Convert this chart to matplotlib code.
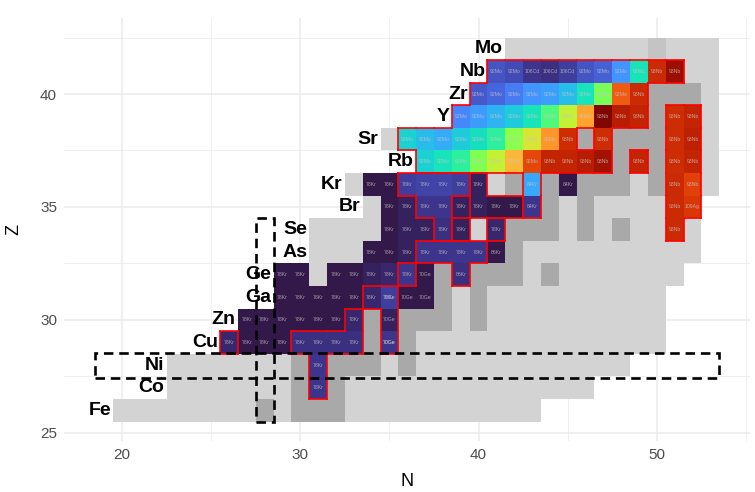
import matplotlib.pyplot as plt
from matplotlib.patches import Rectangle
from matplotlib.collections import LineCollection
from matplotlib import colormaps

plt.rcParams['font.family'] = ['Liberation Sans', 'DejaVu Sans']

elements = ['Fe', 'Co', 'Ni', 'Cu', 'Zn', 'Ga', 'Ge', 'As', 'Se',
            'Br', 'Kr', 'Rb', 'Sr', 'Y', 'Zr', 'Nb', 'Mo']
element_z = list(range(26, 43))

# grey background nuclei, stored as runs along N: (Z, first N, last N)
light_runs = [
    (26, 20, 27), (26, 29, 29), (26, 33, 43),
    (27, 23, 29), (27, 33, 46),
    (28, 23, 29), (28, 35, 35), (28, 37, 48),
    (29, 37, 50),
    (30, 39, 39), (30, 41, 50),
    (31, 39, 39), (31, 41, 50),
    (32, 31, 31), (32, 43, 43), (32, 45, 51),
    (33, 31, 33), (33, 43, 52),
    (34, 31, 34), (34, 40, 40), (34, 45, 45), (34, 47, 47), (34, 49, 50), (34, 52, 52),
    (35, 34, 34), (35, 45, 45), (35, 47, 50),
    (36, 33, 33), (36, 41, 41), (36, 49, 49), (36, 53, 53),
    (37, 53, 53),
    (38, 35, 35), (38, 53, 53),
    (39, 53, 53),
    (40, 53, 53),
    (41, 52, 53),
    (42, 42, 49), (42, 51, 53),
]
dark_runs = [
    (26, 28, 28), (26, 30, 32),
    (27, 30, 30), (27, 32, 32),
    (28, 30, 30), (28, 32, 34), (28, 36, 36),
    (29, 34, 34), (29, 36, 36),
    (30, 34, 34), (30, 36, 38), (30, 40, 40),
    (31, 38, 38), (31, 40, 40),
    (32, 38, 38), (32, 40, 42), (32, 44, 44),
    (33, 42, 42),
    (34, 42, 44), (34, 46, 46), (34, 48, 48),
    (35, 44, 44), (35, 46, 46),
    (36, 42, 42), (36, 44, 44), (36, 46, 48), (36, 50, 50),
    (37, 48, 48), (37, 50, 50),
    (38, 46, 46), (38, 48, 50),
    (39, 50, 50),
    (40, 50, 52),
]
mid_runs = [(42, 50, 50)]

# coloured nuclei: one entry per row of Z
row_z = [27, 28, 29, 30, 31, 32, 33, 34, 35, 36, 37, 38, 39, 40, 41]
row_n = [
    [31],
    [31],
    [26, 27, 28, 29, 30, 31, 32, 33, 35],
    [27, 28, 29, 30, 31, 32, 33, 35],
    [29, 30, 31, 32, 33, 34, 35, 36, 37],
    [29, 30, 32, 33, 34, 35, 36, 37, 39],
    [34, 35, 36, 37, 38, 39, 40, 41],
    [35, 36, 37, 38, 39, 41, 51],
    [35, 36, 37, 38, 39, 40, 41, 42, 43, 51, 52],
    [34, 35, 36, 37, 38, 39, 40, 43, 45, 51, 52],
    [37, 38, 39, 40, 41, 42, 43, 44, 45, 46, 47, 49, 51, 52],
    [36, 37, 38, 39, 40, 41, 42, 43, 44, 45, 47, 51, 52],
    [39, 40, 41, 42, 43, 44, 45, 46, 47, 48, 49, 51, 52],
    [40, 41, 42, 43, 44, 45, 46, 47, 48, 49],
    [41, 42, 43, 44, 45, 46, 47, 48, 49, 50, 51],
]
row_seed = [
    ['78Kr'],
    ['78Kr'],
    ['78Kr'] * 8 + ['70Ge/70Ge'],
    ['78Kr'] * 7 + ['70Ge'],
    ['78Kr'] * 6 + ['78Kr/70Ge', '70Ge', '70Ge'],
    ['78Kr'] * 7 + ['70Ge', '86Kr'],
    ['78Kr'] * 7 + ['86Kr'],
    ['78Kr'] * 6 + ['93Nb'],
    ['78Kr'] * 8 + ['84Kr', '93Nb', '109Ag'],
    ['78Kr'] * 7 + ['84Kr', '84Kr', '93Nb', '93Nb'],
    ['92Mo'] * 7 + ['93Nb'] * 7,
    ['92Mo'] * 9 + ['93Nb'] * 4,
    ['92Mo'] * 8 + ['93Nb'] * 5,
    ['92Mo'] * 9 + ['93Nb'],
    ['92Mo', '92Mo', '106Cd', '106Cd', '106Cd', '92Mo', '92Mo', '92Mo', '92Mo', '93Nb', '93Nb'],
]
row_val = [
    [0.05],
    [0.05],
    [0.03, 0.01, 0.01, 0.01, 0.04, 0.04, 0.04, 0.04, 0.05],
    [0.01, 0.01, 0.01, 0.01, 0.01, 0.01, 0.03, 0.02],
    [0.01, 0.01, 0.01, 0.01, 0.01, 0.03, 0.06, 0.01, 0.01],
    [0.01, 0.01, 0.01, 0.01, 0.02, 0.03, 0.05, 0.01, 0.04],
    [0.01, 0.01, 0.02, 0.05, 0.05, 0.05, 0.05, 0.01],
    [0.01, 0.02, 0.02, 0.04, 0.02, 0.03, 0.89],
    [0.01, 0.02, 0.05, 0.05, 0.02, 0.02, 0.01, 0.01, 0.05, 0.89, 0.86],
    [0.01, 0.01, 0.06, 0.07, 0.07, 0.06, 0.02, 0.22, 0.01, 0.89, 0.84],
    [0.29, 0.33, 0.37, 0.46, 0.55, 0.67, 0.83, 0.90, 0.90, 0.92, 0.95, 0.90, 0.88, 0.90],
    [0.29, 0.25, 0.23, 0.28, 0.32, 0.37, 0.47, 0.58, 0.72, 0.88, 0.88, 0.88, 0.91],
    [0.17, 0.20, 0.24, 0.28, 0.33, 0.41, 0.55, 0.70, 0.99, 0.92, 0.90, 0.88, 0.90],
    [0.10, 0.12, 0.15, 0.19, 0.21, 0.25, 0.33, 0.45, 0.80, 0.89],
    [0.09, 0.08, 0.05, 0.04, 0.06, 0.09, 0.11, 0.19, 0.33, 0.89, 0.96],
]

# groups of nuclei framed in red, as runs (Z, first N, last N)
outline_groups = [
    [(41, 41, 51), (40, 40, 49), (39, 39, 49), (38, 36, 45), (38, 47, 47),
     (37, 37, 47), (36, 43, 43), (35, 43, 43)],
    [(39, 51, 52), (38, 51, 52), (37, 51, 52), (36, 51, 52), (35, 51, 52), (34, 51, 51)],
    [(37, 49, 49)],
    [(36, 36, 39), (35, 37, 38), (34, 38, 38)],
    [(36, 40, 40), (35, 40, 42)],
    [(34, 39, 39)],
    [(34, 41, 41)],
    [(33, 37, 40), (32, 39, 39)],
    [(32, 36, 36)],
    [(31, 34, 35), (30, 33, 33), (30, 35, 35), (29, 30, 33), (29, 35, 35),
     (28, 31, 31), (27, 31, 31)],
    [(29, 26, 26)],
]

# dashed boxes around the magic numbers N = 28 and Z = 28
magic_n = 28
magic_z = 28
magic_n_top = 34.5

fig = plt.figure(figsize=(7.55, 4.92), dpi=100)
ax = fig.add_axes([0.0848, 0.1039, 0.9092, 0.8589])


def draw_runs(runs, color):
    for z, n0, n1 in runs:
        for n in range(n0, n1 + 1):
            ax.add_patch(Rectangle((n - 0.5, z - 0.5), 1, 1, facecolor=color,
                                   edgecolor='none', zorder=1))


draw_runs(light_runs, '#d3d3d3')
draw_runs(mid_runs, '#c4c4c4')
draw_runs(dark_runs, '#a9a9a9')

cmap = colormaps['turbo']
for z, ns, seeds, vals in zip(row_z, row_n, row_seed, row_val):
    for n, s, v in zip(ns, seeds, vals):
        ax.add_patch(Rectangle((n - 0.5, z - 0.5), 1, 1, facecolor=cmap(v),
                               edgecolor='none', zorder=2))
        for part in s.split('/'):
            ax.text(n, z, part, ha='center', va='center', fontsize=3.7,
                    color='#c8c8c8', alpha=0.75, zorder=3)

# red frames: every edge between a framed cell and an outside cell
segs = []
for group in outline_groups:
    cells = {(n, z) for z, n0, n1 in group for n in range(n0, n1 + 1)}
    for n, z in cells:
        if (n, z + 1) not in cells:
            segs.append([(n - 0.5, z + 0.5), (n + 0.5, z + 0.5)])
        if (n, z - 1) not in cells:
            segs.append([(n - 0.5, z - 0.5), (n + 0.5, z - 0.5)])
        if (n - 1, z) not in cells:
            segs.append([(n - 0.5, z - 0.5), (n - 0.5, z + 0.5)])
        if (n + 1, z) not in cells:
            segs.append([(n + 0.5, z - 0.5), (n + 0.5, z + 0.5)])
ax.add_collection(LineCollection(segs, colors='red', linewidths=1.2,
                                 capstyle='projecting', zorder=4), autolim=False)

# element names left of each row
all_runs = light_runs + dark_runs + mid_runs
for el, z in zip(elements, element_z):
    first = min([r[1] for r in all_runs if r[0] == z] +
                [n for rz, ns in zip(row_z, row_n) if rz == z for n in ns])
    ax.text(first - 0.62, z, el, ha='right', va='center', fontsize=14,
            fontweight='bold', color='black', zorder=5)

n_min = min(r[1] for r in all_runs) - 1.5
n_max = max(r[2] for r in all_runs) + 0.5
z_min = min(element_z) - 0.5
z_max = max(element_z) + 0.5
dash = dict(fill=False, edgecolor='black', linewidth=1.9,
            linestyle=(0, (3.6, 2.2)), zorder=6)
ax.add_patch(Rectangle((n_min, magic_z - 0.55), n_max - n_min, 1.1, **dash))
ax.add_patch(Rectangle((magic_n - 0.5, z_min), 1.0, magic_n_top - z_min, **dash))

ax.set_xticks([20, 30, 40, 50])
ax.set_yticks([25, 30, 35, 40])
ax.set_xticks([15, 25, 35, 45, 55], minor=True)
ax.set_yticks([27.5, 32.5, 37.5, 42.5], minor=True)

x_pad = 0.05 * (n_max - n_min)
y_pad = 0.05 * (z_max - z_min)
ax.set_xlim(n_min - x_pad, n_max + x_pad)
ax.set_ylim(z_min - y_pad, z_max + y_pad)

ax.grid(which='major', color='#ebebeb', linewidth=1.1, zorder=0)
ax.grid(which='minor', color='#ebebeb', linewidth=0.55, zorder=0)
ax.set_axisbelow(True)
ax.tick_params(which='both', length=0, labelsize=11, labelcolor='#4d4d4d', pad=5)
for sp in ax.spines.values():
    sp.set_visible(False)
ax.set_xlabel('N', fontsize=13, labelpad=8)
ax.set_ylabel('Z', fontsize=13, labelpad=13)

fig.savefig('out.png', dpi=100)
